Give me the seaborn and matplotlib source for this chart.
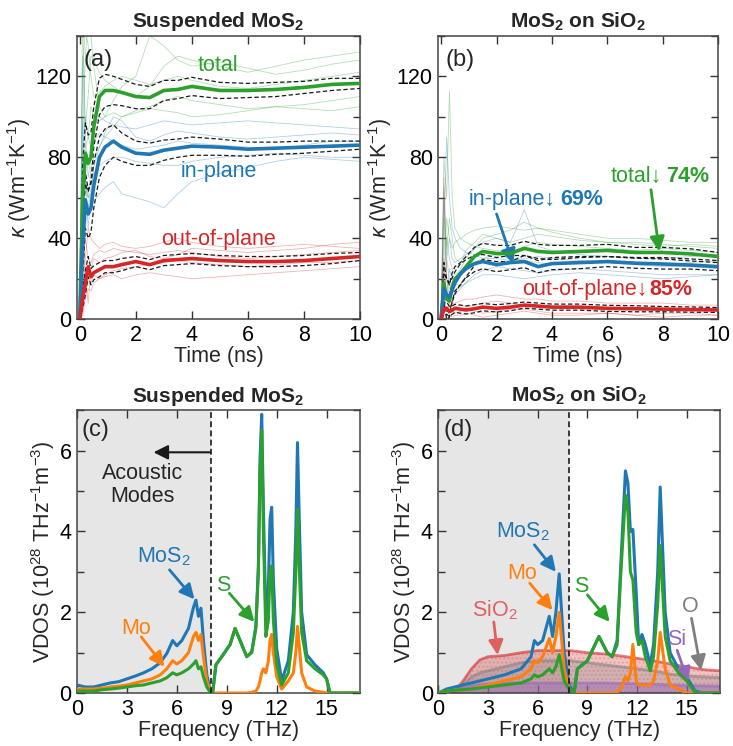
import matplotlib
matplotlib.use("Agg")
import matplotlib.pyplot as plt
import seaborn as sns
import numpy as np
from matplotlib.ticker import MultipleLocator

sns.set_theme(style="ticks")
plt.rcParams['font.family'] = ['Liberation Sans', 'DejaVu Sans']
plt.rcParams['mathtext.fontset'] = 'custom'
plt.rcParams['mathtext.rm'] = 'Liberation Sans'
plt.rcParams['mathtext.it'] = 'Liberation Sans:italic'
plt.rcParams['mathtext.bf'] = 'Liberation Sans:bold'

BLUE, ORANGE, GREEN, RED = '#1f77b4', '#ff7f0e', '#2ca02c', '#d62728'
PURPLE, GRAY = '#9467bd', '#7f7f7f'

# ---- thermal conductivity vs time (ns) ----
t = [0, 0.1, 0.2, 0.3, 0.4, 0.5, 0.7, 0.9, 1.2, 1.5, 2, 2.5, 3, 3.5, 4, 5, 6, 7, 8, 9, 10]

# panel (a) suspended
total_a = [0, 60, 82, 77, 80, 95, 110, 113, 113, 112, 110, 109.5, 113, 113.5, 115, 113, 113, 113.5, 114.5, 116, 116.5]
inplane_a = [0, 35, 59, 52, 55, 66, 80, 85, 88, 85, 82, 81.5, 83.5, 84.5, 85.5, 85, 84, 84.5, 85, 85.5, 86]
outplane_a = [0, 10, 18, 26, 21, 23, 24.5, 26, 26, 27, 28.5, 27, 29, 29.5, 30, 29, 28.5, 28.5, 29, 30, 31]
err_total_a = [0, 15, 15, 14, 12, 10, 9, 8, 7, 6.5, 6, 5.5, 5, 4.5, 4.5, 4, 3.5, 3.5, 3, 3, 2.5]
err_in_a = [0, 15, 14, 12, 12, 11, 10, 9, 8, 7, 6, 5.5, 5, 4.5, 4.5, 4, 3.5, 3, 3, 2.5, 2]
err_out_a = [0, 5, 6, 5, 4, 3.5, 3.5, 3, 3, 3, 2.5, 2.5, 2.5, 2.5, 2.5, 2.5, 2.5, 2.5, 2.5, 2.5, 2]

runs_total_a = [
    [0, 150, 95, 110, 130, 128, 122, 118, 115, 112, 110, 115, 125, 130, 128, 125, 122, 125, 128, 130, 132],
    [0, 60, 85, 90, 105, 100, 98, 100, 102, 100, 103, 105, 108, 110, 108, 106, 104, 105, 106, 108, 110],
    [0, 120, 145, 135, 120, 110, 112, 115, 118, 120, 118, 116, 118, 120, 118, 115, 114, 116, 118, 120, 122],
    [0, 40, 70, 60, 75, 80, 85, 90, 95, 100, 102, 104, 103, 102, 100, 101, 103, 105, 104, 103, 105],
    [0, 90, 130, 150, 140, 125, 105, 100, 108, 115, 120, 140, 135, 128, 125, 127, 124, 121, 123, 126, 128],
]
runs_in_a = [
    [0, 130, 90, 70, 80, 95, 100, 98, 96, 95, 94, 96, 98, 97, 96, 97, 98, 97, 96, 95, 94],
    [0, 50, 65, 60, 62, 58, 62, 65, 68, 62, 60, 58, 55, 62, 68, 72, 75, 78, 80, 79, 78],
    [0, 80, 100, 90, 85, 88, 92, 90, 88, 86, 84, 85, 86, 88, 87, 86, 85, 84, 86, 88, 88],
    [0, 30, 45, 55, 65, 72, 76, 78, 80, 80, 78, 77, 76, 76, 78, 80, 81, 82, 81, 80, 80],
    [0, 100, 70, 45, 60, 75, 85, 92, 100, 98, 90, 88, 91, 93, 92, 90, 89, 90, 91, 92, 91],
]
runs_out_a = [
    [0, 10, 30, 45, 40, 38, 35, 37, 38, 36, 35, 36, 38, 40, 38, 36, 35, 36, 37, 36, 35],
    [0, 5, 15, 20, 18, 22, 20, 21, 22, 20, 22, 23, 22, 21, 20, 21, 22, 23, 24, 25, 26],
    [0, 25, 40, 30, 28, 32, 34, 33, 35, 34, 33, 32, 33, 34, 33, 31, 30, 31, 32, 33, 34],
    [0, 2, 10, 15, 14, 18, 20, 22, 24, 25, 26, 27, 28, 29, 28, 27, 26, 27, 28, 28, 29],
    [0, 50, 20, 8, 25, 30, 28, 30, 31, 33, 34, 31, 30, 32, 35, 34, 33, 34, 35, 37, 38],
]

# panel (b) on SiO2
total_b = [0, 18, 10, 9, 16, 20, 22.5, 26, 31, 33.5, 32.5, 32.5, 35, 33.5, 33, 33.5, 34, 33, 33, 32.3, 31]
inplane_b = [0, 15, 12, 11, 14.5, 18, 22.5, 25, 27.5, 28.5, 27, 28, 28.5, 26, 27.5, 28, 28.5, 27.7, 27.3, 26.8, 26]
outplane_b = [0, 5, 5.5, 3.8, 4.5, 5.4, 5, 4.6, 5.2, 6, 5.4, 6, 7, 6.5, 6, 6, 5.4, 5.2, 5, 4.8, 4.6]
err_total_b = [0, 10, 10, 8, 7, 6, 5.5, 5, 4.5, 4, 4, 4, 3.5, 3.5, 3.5, 3, 3, 2.5, 2.5, 2.5, 2]
err_in_b = [0, 8, 8, 7, 6, 5.5, 5, 4.5, 4, 3.5, 3.5, 3.5, 3, 3, 3, 3, 2.5, 2.5, 2.5, 2, 2]
err_out_b = [0, 3, 3, 2.5, 2, 2, 2, 2, 2, 1.8, 1.8, 1.8, 1.5, 1.5, 1.5, 1.5, 1.5, 1.5, 1.3, 1.3, 1.2]

runs_total_b = [
    [0, 80, 60, 113, 60, 45, 40, 42, 44, 45, 46, 45, 44, 45, 44, 42, 40, 40, 39, 38, 38],
    [0, 30, 50, 40, 35, 38, 40, 38, 36, 35, 34, 33, 36, 38, 37, 36, 35, 34, 35, 34, 33],
    [0, 20, 40, 30, 25, 22, 24, 26, 28, 30, 32, 30, 29, 28, 27, 28, 29, 28, 27, 28, 29],
    [0, 50, 20, 15, 18, 20, 25, 30, 35, 40, 42, 44, 48, 45, 43, 40, 38, 37, 36, 37, 36],
    [0, 65, 35, 50, 40, 30, 28, 34, 38, 42, 40, 38, 40, 42, 41, 39, 38, 38, 37, 36, 35],
]
runs_in_b = [
    [0, 40, 90, 60, 45, 40, 35, 33, 32, 30, 30, 29, 30, 31, 30, 29, 28, 27, 26, 26, 25],
    [0, 10, 30, 20, 15, 12, 15, 18, 20, 22, 22, 21, 20, 21, 22, 23, 22, 21, 20, 21, 22],
    [0, 60, 30, 40, 30, 28, 30, 32, 35, 38, 40, 38, 54, 36, 34, 32, 31, 30, 30, 31, 32],
    [0, 20, 10, 25, 20, 18, 16, 18, 22, 24, 26, 25, 24, 23, 24, 25, 24, 23, 22, 22, 22],
]
runs_out_b = [
    [0, 70, 20, 10, 8, 8, 9, 10, 10, 11, 12, 11, 10, 10, 9, 9, 8, 8, 8, 7, 7],
    [0, 10, 5, 2, 1, 2, 2, 3, 2, 1, 2, 3, 4, 3, 2, 2, 3, 2, 1, 2, 2],
    [0, 30, 10, 6, 5, 6, 7, 6, 7, 8, 9, 8, 7, 6, 6, 5, 5, 6, 5, 5, 4],
    [0, 5, 12, 8, 4, 3, 4, 5, 4, 3, 4, 5, 5, 4, 3, 3, 3, 2, 3, 3, 2],
]

# ---- VDOS vs frequency (THz) ----
f_c = [0, 0.5, 1, 1.5, 2, 2.5, 3, 3.5, 4, 4.5, 5, 5.4, 5.75, 6.0, 6.3, 6.7, 7.0, 7.15, 7.3, 7.45,
       7.6, 7.8, 8.0, 8.15, 8.35, 8.7, 9.2, 9.5, 9.8, 10.2, 10.5, 10.75, 10.9, 11.0, 11.1, 11.2,
       11.35, 11.5, 11.6, 11.7, 11.8, 12.0, 12.3, 12.7, 13.0, 13.15, 13.25, 13.35, 13.5, 13.8,
       14.3, 14.8, 15.0, 15.2, 16, 17]
mos2_c = [0.2, 0.15, 0.15, 0.2, 0.25, 0.28, 0.35, 0.42, 0.5, 0.6, 0.75, 0.98, 1.3, 1.17, 1.3, 1.6,
          2.12, 2.3, 1.9, 2.1, 1.3, 0.45, 0.07, 0, 0.7, 0.9, 1.2, 1.6, 1.3, 0.9, 1.02, 1.65, 3.15,
          5.8, 6.9, 4.6, 1.9, 2.6, 4.3, 4.6, 2.8, 1.1, 0.3, 0.8, 2.0, 4.0, 6.2, 4.4, 2.0, 0.95,
          0.7, 0.5, 0.35, 0, 0, 0]
mo_c = [0.1, 0.1, 0.1, 0.12, 0.15, 0.17, 0.2, 0.25, 0.3, 0.35, 0.45, 0.6, 0.8, 0.72, 0.8, 1.0,
        1.4, 1.5, 1.3, 1.45, 0.9, 0.3, 0.05, 0, 0, 0, 0, 0, 0, 0, 0.02, 0.05, 0.15, 0.3, 0.5,
        0.6, 0.5, 0.8, 1.3, 1.45, 1.0, 0.4, 0.1, 0.3, 0.5, 1.0, 1.65, 1.2, 0.5, 0.15, 0.05,
        0.02, 0, 0, 0, 0]
s_c = [0.05, 0.05, 0.05, 0.08, 0.1, 0.12, 0.15, 0.18, 0.2, 0.25, 0.3, 0.38, 0.5, 0.45, 0.5, 0.6,
       0.72, 0.8, 0.6, 0.65, 0.4, 0.15, 0.02, 0, 0.7, 0.9, 1.2, 1.6, 1.3, 0.9, 1.0, 1.6, 3.0,
       5.5, 6.5, 4.0, 1.4, 1.8, 3.0, 3.15, 1.8, 0.7, 0.2, 0.5, 1.5, 3.0, 4.55, 3.2, 1.5, 0.8,
       0.6, 0.45, 0.35, 0, 0, 0]

f_d = [0, 0.5, 1, 2, 3, 4, 5, 5.6, 5.8, 6.0, 6.3, 6.7, 6.9, 7.1, 7.3, 7.6, 7.9, 8.2, 8.4, 9.0,
       9.7, 10.2, 10.5, 10.8, 11.0, 11.3, 11.45, 11.6, 11.75, 11.95, 12.1, 12.3, 12.5, 12.8,
       13.0, 13.25, 13.4, 13.7, 14.0, 14.5, 15.0, 15.5, 16, 17]
mos2_d = [0, 0.1, 0.15, 0.25, 0.35, 0.45, 0.6, 0.9, 1.3, 1.2, 1.3, 1.9, 1.4, 2.0, 2.95, 1.0, 0.2,
          0, 0.6, 0.8, 1.4, 1.0, 0.9, 1.3, 3.0, 5.5, 5.2, 4.0, 4.05, 2.5, 1.2, 1.45, 1.2, 0.7,
          1.2, 3.0, 5.1, 2.0, 1.0, 0.6, 0.4, 0.05, 0, 0]
mo_d = [0, 0.05, 0.07, 0.1, 0.2, 0.3, 0.4, 0.6, 0.8, 0.75, 0.9, 1.35, 1.0, 1.4, 2.0, 0.6, 0.1,
        0, 0, 0, 0, 0, 0, 0.02, 0.1, 0.4, 0.3, 0.5, 1.2, 0.3, 0.2, 0.2, 0.2, 0.2,
        0.3, 0.8, 1.5, 0.6, 0.2, 0.1, 0, 0, 0, 0]
s_d = [0, 0.05, 0.07, 0.1, 0.15, 0.2, 0.25, 0.35, 0.45, 0.4, 0.45, 0.6, 0.5, 0.65, 0.95, 0.3, 0.1,
       0, 0.6, 0.8, 1.4, 1.0, 0.9, 1.2, 2.8, 4.9, 4.5, 3.0, 2.8, 1.5, 1.2, 1.3, 0.9, 0.55,
       0.9, 2.2, 3.65, 1.4, 0.8, 0.5, 0.3, 0.02, 0, 0]

f_sub = [0, 0.5, 1, 1.5, 2, 2.5, 3, 4, 5, 6, 7, 8, 9, 10, 11, 12, 13, 14, 15, 16, 17]
sio2_d = [0, 0, 0.05, 0.3, 0.6, 0.82, 0.9, 0.93, 1.0, 1.05, 1.05, 1.05, 1.0, 0.97, 0.92, 0.86, 0.8, 0.72, 0.65, 0.58, 0.55]
o_d = [0, 0, 0.02, 0.2, 0.4, 0.5, 0.55, 0.65, 0.75, 0.8, 0.8, 0.8, 0.75, 0.7, 0.65, 0.6, 0.55, 0.47, 0.42, 0.4, 0.38]
si_d = [0, 0, 0.05, 0.12, 0.18, 0.2, 0.22, 0.25, 0.25, 0.25, 0.25, 0.25, 0.25, 0.25, 0.24, 0.23, 0.22, 0.2, 0.19, 0.18, 0.17]

FS = 15.5
fig = plt.figure(figsize=(7.33, 7.46), dpi=100)
ax_a = fig.add_axes([0.105, 0.572, 0.386, 0.380])
ax_b = fig.add_axes([0.598, 0.572, 0.382, 0.380])
ax_c = fig.add_axes([0.105, 0.071, 0.386, 0.379])
ax_d = fig.add_axes([0.598, 0.071, 0.384, 0.379])


def style(ax):
    ax.tick_params(which='both', direction='in', top=True, right=True, width=1, labelsize=FS,
                   colors='#333333', labelcolor='black')
    ax.tick_params(which='major', length=6)
    ax.tick_params(which='minor', length=5)
    for sp in ax.spines.values():
        sp.set_color('#444444')
        sp.set_linewidth(1.1)
    ax.tick_params(axis='x', which='major', pad=4)
    ax.tick_params(axis='y', which='major', pad=4)


def arrow(ax, tail, head, color):
    ax.annotate('', xy=head, xytext=tail,
                arrowprops=dict(arrowstyle='-|>', color=color, lw=2, mutation_scale=22,
                                shrinkA=0, shrinkB=0))


def kappa_panel(ax, means, errs, runs, title, tag):
    colors = [GREEN, BLUE, RED]
    for rs, c in zip(runs, colors):
        for r in rs:
            sns.lineplot(x=t, y=r, ax=ax, color=c, lw=0.6, alpha=0.35, zorder=1)
    for m, e, c in zip(means, errs, colors):
        m = np.array(m)
        e = np.array(e)
        sns.lineplot(x=t, y=m + e, ax=ax, color='k', lw=0.9, linestyle=(0, (3.5, 2)), zorder=3)
        sns.lineplot(x=t, y=m - e, ax=ax, color='k', lw=0.9, linestyle=(0, (3.5, 2)), zorder=3)
        sns.lineplot(x=t, y=m, ax=ax, color=c, lw=2.6, zorder=4)
    ax.set_xlim(-0.1, 10)
    ax.set_ylim(0, 140)
    ax.xaxis.set_major_locator(MultipleLocator(2))
    ax.yaxis.set_major_locator(MultipleLocator(40))
    ax.yaxis.set_minor_locator(MultipleLocator(20))
    ax.set_xlabel('Time (ns)', fontsize=FS, labelpad=0)
    ax.set_ylabel(r'$\kappa$ (Wm$^{-1}$K$^{-1}$)', fontsize=FS, labelpad=2)
    ax.set_title(title, fontsize=15, fontweight='bold', pad=6)
    ax.text(0.15, 128, tag, fontsize=17, va='center', ha='left')
    style(ax)


kappa_panel(ax_a, [total_a, inplane_a, outplane_a], [err_total_a, err_in_a, err_out_a],
            [runs_total_a, runs_in_a, runs_out_a], r'Suspended MoS$_\mathbf{2}$', '(a)')
ax_a.text(4.95, 125.5, 'total', color=GREEN, fontsize=FS, ha='center', va='center')
ax_a.text(4.95, 73, 'in-plane', color=BLUE, fontsize=FS, ha='center', va='center')
ax_a.text(4.95, 39.5, 'out-of-plane', color=RED, fontsize=FS, ha='center', va='center')

kappa_panel(ax_b, [total_b, inplane_b, outplane_b], [err_total_b, err_in_b, err_out_b],
            [runs_total_b, runs_in_b, runs_out_b], r'MoS$_\mathbf{2}$ on SiO$_\mathbf{2}$', '(b)')
ax_b.text(4.15, 59, 'in-plane\u2193', color=BLUE, fontsize=FS, ha='right', va='center')
ax_b.text(4.3, 59, '69%', color=BLUE, fontsize=FS, fontweight='bold', ha='left', va='center')
arrow(ax_b, (2.0, 52), (2.6, 27.5), BLUE)
ax_b.text(7.95, 70.5, 'total\u2193', color=GREEN, fontsize=FS, ha='right', va='center')
ax_b.text(8.1, 70.5, '74%', color=GREEN, fontsize=FS, fontweight='bold', ha='left', va='center')
arrow(ax_b, (7.57, 64), (7.87, 33.5), GREEN)
ax_b.text(7.45, 14.5, 'out-of-plane\u2193', color=RED, fontsize=FS, ha='right', va='center')
ax_b.text(7.5, 14.5, '85%', color=RED, fontsize=FS, fontweight='bold', ha='left', va='center')


def vdos_axes(ax, split, title, tag):
    ax.axvspan(0, split, color='#e6e6e6', zorder=0, lw=0)
    ax.axvline(split, color='k', ls=(0, (3.5, 2)), lw=1.2, zorder=5)
    ax.set_xlim(0, 17)
    ax.set_ylim(0, 7)
    ax.xaxis.set_major_locator(MultipleLocator(3))
    ax.yaxis.set_major_locator(MultipleLocator(2))
    ax.yaxis.set_minor_locator(MultipleLocator(1))
    ax.set_xlabel('Frequency (THz)', fontsize=FS, labelpad=0)
    ax.set_ylabel(r'VDOS (10$^{28}$ THz$^{-1}$m$^{-3}$)', fontsize=FS, labelpad=2)
    ax.set_title(title, fontsize=15, fontweight='bold', pad=6)
    ax.text(0.3, 6.5, tag, fontsize=17, va='center', ha='left')
    style(ax)


# panel (c)
vdos_axes(ax_c, 8.05, r'Suspended MoS$_\mathbf{2}$', '(c)')
sns.lineplot(x=f_c, y=mos2_c, ax=ax_c, color=BLUE, lw=2.2, zorder=3)
sns.lineplot(x=f_c, y=mo_c, ax=ax_c, color=ORANGE, lw=2.2, zorder=3)
sns.lineplot(x=f_c, y=s_c, ax=ax_c, color=GREEN, lw=2.2, zorder=4)
ax_c.annotate('', xy=(4.6, 5.96), xytext=(8.0, 5.96),
              arrowprops=dict(arrowstyle='-|>', color='k', lw=1.5, mutation_scale=22,
                              shrinkA=0, shrinkB=0))
ax_c.text(3.96, 5.15, 'Acoustic\nModes', fontsize=FS, ha='center', va='center', linespacing=1.1)
ax_c.text(5.26, 3.38, r'MoS$_2$', color=BLUE, fontsize=FS, ha='center', va='center')
arrow(ax_c, (5.56, 3.05), (7.06, 2.32), BLUE)
ax_c.text(3.56, 1.6, 'Mo', color=ORANGE, fontsize=FS, ha='center', va='center')
arrow(ax_c, (3.86, 1.39), (5.26, 0.65), ORANGE)
ax_c.text(8.8, 2.67, 'S', color=GREEN, fontsize=FS, ha='center', va='center')
arrow(ax_c, (9.16, 2.47), (10.66, 1.76), GREEN)

# panel (d)
vdos_axes(ax_d, 7.9, r'MoS$_\mathbf{2}$ on SiO$_\mathbf{2}$', '(d)')
ax_d.fill_between(f_sub, sio2_d, color=RED, alpha=0.28, lw=0, zorder=1, hatch='....',
                  edgecolor='#c06060')
ax_d.fill_between(f_sub, o_d, color=GRAY, alpha=0.28, lw=0, zorder=1)
ax_d.fill_between(f_sub, si_d, color=PURPLE, alpha=0.45, lw=0, zorder=1)
sns.lineplot(x=f_sub, y=sio2_d, ax=ax_d, color=RED, lw=2, alpha=0.6, zorder=2)
sns.lineplot(x=f_sub, y=o_d, ax=ax_d, color=GRAY, lw=2, alpha=0.6, zorder=2)
sns.lineplot(x=f_sub, y=si_d, ax=ax_d, color=PURPLE, lw=2, alpha=0.6, zorder=2)
sns.lineplot(x=f_d, y=mos2_d, ax=ax_d, color=BLUE, lw=2.2, zorder=3)
sns.lineplot(x=f_d, y=mo_d, ax=ax_d, color=ORANGE, lw=2.2, zorder=3)
sns.lineplot(x=f_d, y=s_d, ax=ax_d, color=GREEN, lw=2.2, zorder=4)
ax_d.text(5.13, 4.0, r'MoS$_2$', color=BLUE, fontsize=FS, ha='center', va='center')
arrow(ax_d, (5.8, 3.67), (7.1, 3.0), BLUE)
ax_d.text(5.07, 2.96, 'Mo', color=ORANGE, fontsize=FS, ha='center', va='center')
arrow(ax_d, (5.52, 2.72), (6.9, 2.05), ORANGE)
ax_d.text(3.39, 2.05, r'SiO$_2$', color='#e06060', fontsize=FS, ha='center', va='center')
arrow(ax_d, (3.35, 1.76), (3.58, 0.94), '#e06060')
ax_d.text(8.61, 2.63, 'S', color=GREEN, fontsize=FS, ha='center', va='center')
arrow(ax_d, (9.0, 2.43), (10.35, 1.76), GREEN)
ax_d.text(15.19, 2.14, 'O', color=GRAY, fontsize=FS, ha='center', va='center')
arrow(ax_d, (15.29, 1.85), (15.87, 0.56), GRAY)
ax_d.text(14.42, 1.32, 'Si', color=PURPLE, fontsize=FS, ha='center', va='center')
arrow(ax_d, (14.42, 1.06), (15.1, 0.27), PURPLE)

fig.savefig('out.png', dpi=100)
